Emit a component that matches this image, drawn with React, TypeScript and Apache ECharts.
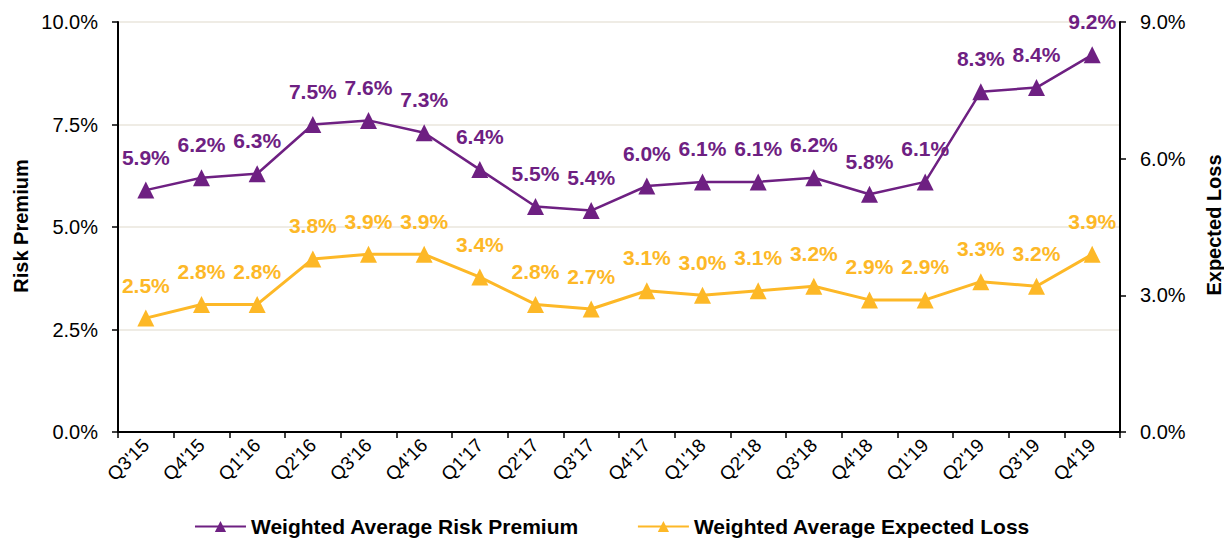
import React, { useEffect, useRef } from "react";
import * as echarts from "echarts";

const categories = ["Q3'15", "Q4'15", "Q1'16", "Q2'16", "Q3'16", "Q4'16", "Q1'17", "Q2'17", "Q3'17", "Q4'17", "Q1'18", "Q2'18", "Q3'18", "Q4'18", "Q1'19", "Q2'19", "Q3'19", "Q4'19"];
const riskPremium = [5.9, 6.2, 6.3, 7.5, 7.6, 7.3, 6.4, 5.5, 5.4, 6.0, 6.1, 6.1, 6.2, 5.8, 6.1, 8.3, 8.4, 9.2];
const expectedLoss = [2.5, 2.8, 2.8, 3.8, 3.9, 3.9, 3.4, 2.8, 2.7, 3.1, 3.0, 3.1, 3.2, 2.9, 2.9, 3.3, 3.2, 3.9];
const leftTitle = "Risk Premium";
const rightTitle = "Expected Loss";

const PURPLE = "#6E2082";
const YELLOW = "#FDB827";
const FONT = "Liberation Sans, Arial, sans-serif";

export default function App() {
  const ref = useRef<HTMLDivElement>(null);
  useEffect(() => {
    if (!ref.current) return;
    const chart = echarts.init(ref.current, null, { renderer: "svg" });
    const labelCfg = (color: string) => ({
      show: true,
      position: "top" as const,
      distance: 14,
      color,
      fontSize: 21,
      fontWeight: "bold" as const,
      fontFamily: FONT,
      formatter: (p: any) => Number(p.value).toFixed(1) + "%",
    });
    const tickLabel = { fontSize: 20, color: "#000", fontFamily: FONT, margin: 20, formatter: (v: number) => v.toFixed(1) + "%" };
    chart.setOption({
      animation: false,
      textStyle: { fontFamily: FONT },
      grid: { left: 118, right: 104, top: 22, bottom: 108 },
      graphic: [
        {
          type: "text",
          x: 21,
          y: 226,
          rotation: Math.PI / 2,
          style: { text: leftTitle, fontSize: 20, fontWeight: "bold", fill: "#000", fontFamily: FONT, align: "center", verticalAlign: "middle" },
        },
        {
          type: "text",
          x: 1214,
          y: 225,
          rotation: Math.PI / 2,
          style: { text: rightTitle, fontSize: 20, fontWeight: "bold", fill: "#000", fontFamily: FONT, align: "center", verticalAlign: "middle" },
        },
      ],
      legend: {
        top: 511,
        left: "center",
        itemGap: 58,
        itemWidth: 51,
        itemHeight: 14,
        textStyle: { fontSize: 21, fontWeight: "bold", color: "#000", fontFamily: FONT },
        data: ["Weighted Average Risk Premium", "Weighted Average Expected Loss"],
      },
      xAxis: {
        type: "category",
        data: categories,
        boundaryGap: true,
        axisLine: { lineStyle: { color: "#000", width: 2 } },
        axisTick: { show: true, length: 6, lineStyle: { color: "#000", width: 1.5 } },
        axisLabel: { rotate: 45, fontSize: 19, color: "#000", fontFamily: FONT, margin: 10 },
      },
      yAxis: [
        {
          type: "value",
          min: 0,
          max: 10,
          interval: 2.5,
          axisLine: { show: true, lineStyle: { color: "#000", width: 2 } },
          axisTick: { show: true, length: 6, lineStyle: { color: "#000", width: 1.5 } },
          axisLabel: tickLabel,
          splitLine: { show: true, lineStyle: { color: "#EAE6DC", width: 1.5 } },
        },
        {
          type: "value",
          min: 0,
          max: 9,
          interval: 3,
          axisLine: { show: true, lineStyle: { color: "#000", width: 2 } },
          axisTick: { show: true, length: 6, lineStyle: { color: "#000", width: 1.5 } },
          axisLabel: tickLabel,
          splitLine: { show: false },
        },
      ],
      series: [
        {
          name: "Weighted Average Risk Premium",
          type: "line",
          yAxisIndex: 0,
          data: riskPremium,
          symbol: "triangle",
          symbolSize: 17,
          itemStyle: { color: PURPLE },
          lineStyle: { color: PURPLE, width: 2.5 },
          label: labelCfg(PURPLE),
          z: 3,
        },
        {
          name: "Weighted Average Expected Loss",
          type: "line",
          yAxisIndex: 1,
          data: expectedLoss,
          symbol: "triangle",
          symbolSize: 17,
          itemStyle: { color: YELLOW },
          lineStyle: { color: YELLOW, width: 3 },
          label: labelCfg(YELLOW),
          z: 2,
        },
      ],
    });
    return () => chart.dispose();
  }, []);
  return <div ref={ref} style={{ width: 1224, height: 540, position: "absolute", left: 0, top: 0 }} />;
}
